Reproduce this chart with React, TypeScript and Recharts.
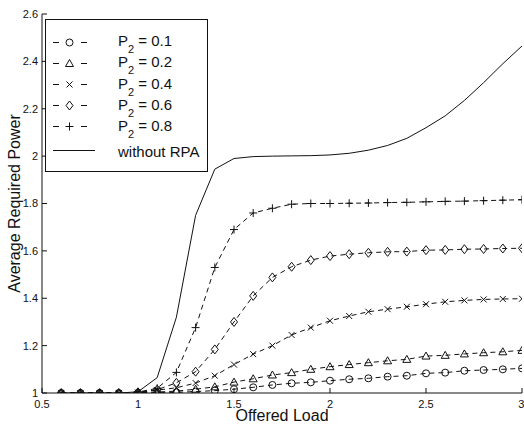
import React from 'react';
import { LineChart, Line, XAxis, YAxis, Legend } from 'recharts';

const loads = [0.6, 0.7, 0.8, 0.9, 1.0, 1.1, 1.2, 1.3, 1.4, 1.5, 1.6, 1.7, 1.8, 1.9, 2.0, 2.1, 2.2, 2.3, 2.4, 2.5, 2.6, 2.7, 2.8, 2.9, 3.0];

const p01 = [1, 1, 1, 1, 1, 1.001, 1.003, 1.006, 1.01, 1.016, 1.024, 1.034, 1.041, 1.045, 1.052, 1.058, 1.062, 1.069, 1.073, 1.083, 1.086, 1.094, 1.097, 1.1, 1.104];
const p02 = [1, 1, 1, 1, 1.001, 1.004, 1.008, 1.016, 1.026, 1.046, 1.06, 1.076, 1.086, 1.1, 1.111, 1.12, 1.128, 1.136, 1.142, 1.156, 1.159, 1.165, 1.17, 1.174, 1.18];
const p04 = [1, 1, 1, 1, 1.002, 1.012, 1.022, 1.042, 1.073, 1.12, 1.164, 1.2, 1.245, 1.276, 1.305, 1.325, 1.343, 1.354, 1.364, 1.375, 1.385, 1.391, 1.395, 1.397, 1.398];
const p06 = [1, 1, 1, 1, 1.003, 1.014, 1.043, 1.09, 1.184, 1.3, 1.41, 1.488, 1.533, 1.561, 1.578, 1.586, 1.592, 1.596, 1.597, 1.603, 1.604, 1.607, 1.608, 1.61, 1.611];
const p08 = [1, 1, 1, 1, 1.004, 1.02, 1.087, 1.276, 1.53, 1.69, 1.76, 1.78, 1.797, 1.8, 1.8, 1.801, 1.802, 1.804, 1.805, 1.807, 1.809, 1.81, 1.812, 1.814, 1.816];
const noRpa = [1, 1, 1, 1, 1.005, 1.065, 1.32, 1.75, 1.945, 1.99, 1.998, 2.0, 2.001, 2.002, 2.005, 2.012, 2.025, 2.045, 2.075, 2.12, 2.17, 2.235, 2.31, 2.39, 2.465];

const xTicks = [0.5, 1, 1.5, 2, 2.5, 3];
const yTicks = [1, 1.2, 1.4, 1.6, 1.8, 2, 2.2, 2.4, 2.6];

const series = [
  { key: 'p01', label: '0.1', shape: 'circle', values: p01 },
  { key: 'p02', label: '0.2', shape: 'triangle', values: p02 },
  { key: 'p04', label: '0.4', shape: 'cross', values: p04 },
  { key: 'p06', label: '0.6', shape: 'diamond', values: p06 },
  { key: 'p08', label: '0.8', shape: 'plus', values: p08 },
];

const data = loads.map((x, i) => {
  const row: Record<string, number> = { x, noRpa: noRpa[i] };
  series.forEach(s => { row[s.key] = s.values[i]; });
  return row;
});

const INK = '#111';
const FONT = '"Liberation Sans", Arial, Helvetica, sans-serif';

const markerPath = (shape: string, cx: number, cy: number) => {
  switch (shape) {
    case 'triangle': return `M${cx},${cy - 4}L${cx + 4},${cy + 3}L${cx - 4},${cy + 3}Z`;
    case 'cross': return `M${cx - 3},${cy - 3}L${cx + 3},${cy + 3}M${cx - 3},${cy + 3}L${cx + 3},${cy - 3}`;
    case 'diamond': return `M${cx},${cy - 4.5}L${cx + 3.5},${cy}L${cx},${cy + 4.5}L${cx - 3.5},${cy}Z`;
    case 'plus': return `M${cx - 4},${cy}L${cx + 4},${cy}M${cx},${cy - 4}L${cx},${cy + 4}`;
    default: return '';
  }
};

const Marker = ({ shape, cx, cy }: { shape: string; cx: number; cy: number }) => {
  if (shape === 'circle') {
    return <circle cx={cx} cy={cy} r={3.5} fill="none" stroke={INK} strokeWidth={1} />;
  }
  return <path d={markerPath(shape, cx, cy)} fill="none" stroke={INK} strokeWidth={1} />;
};

const renderLegend = () => {
  const rowTops = [22.7, 43.7, 65, 86, 107];
  return (
    <div style={{
      position: 'relative', width: 163, height: 153, boxSizing: 'border-box',
      border: `1px solid ${INK}`, background: '#fff', fontFamily: FONT, fontSize: 15, color: INK,
    }}>
      {series.map((s, i) => (
        <div key={s.key} style={{ position: 'absolute', left: 7, top: rowTops[i] - 11, height: 21, display: 'flex', alignItems: 'center' }}>
          <svg width={36} height={21} style={{ display: 'block' }}>
            <line x1={0} y1={10.5} x2={34} y2={10.5} stroke={INK} strokeDasharray="6 22" />
            <Marker shape={s.shape} cx={16.5} cy={10.5} />
          </svg>
          <span style={{ position: 'relative', top: 3, marginLeft: 29, whiteSpace: 'nowrap', lineHeight: '21px' }}>
            P<span style={{ fontSize: 11, verticalAlign: '-7px' }}>2</span> = {s.label}
          </span>
        </div>
      ))}
      <div style={{ position: 'absolute', left: 7, top: 131 - 11, height: 21, display: 'flex', alignItems: 'center' }}>
        <svg width={42} height={21} style={{ display: 'block' }}>
          <line x1={0} y1={10.5} x2={42} y2={10.5} stroke={INK} />
        </svg>
        <span style={{ position: 'relative', top: 1, marginLeft: 23, whiteSpace: 'nowrap', lineHeight: '21px' }}>without RPA</span>
      </div>
    </div>
  );
};

const tickStyle = { fill: INK, fontSize: 11, fontFamily: FONT };

export default function App() {
  return (
    <div style={{ position: 'absolute', left: 0, top: 0, background: '#fff' }}>
      <LineChart width={524} height={426} data={data} margin={{ top: 14, right: 2, bottom: 0, left: 0 }}>
        <XAxis
          dataKey="x" type="number" domain={[0.5, 3]} ticks={xTicks} allowDataOverflow
          height={33} stroke={INK} tickSize={-5} tickMargin={12} tick={tickStyle}
          tickFormatter={(v: number) => String(v)}
          label={{
            content: ({ viewBox }: any) => (
              <text x={viewBox.x + viewBox.width / 2} y={421} textAnchor="middle" fill={INK} fontSize={16} fontFamily={FONT}>
                Offered Load
              </text>
            ),
          }}
        />
        <XAxis xAxisId="top" orientation="top" type="number" domain={[0.5, 3]} ticks={xTicks} allowDataOverflow
          height={0} stroke={INK} tickSize={-5} tick={false} />
        <YAxis
          type="number" domain={[1, 2.6]} ticks={yTicks} allowDataOverflow
          width={42} stroke={INK} tickSize={-5} tickMargin={9} tick={tickStyle}
          tickFormatter={(v: number) => String(v)}
          label={{
            content: ({ viewBox }: any) => {
              const cx = 14;
              const cy = viewBox.y + viewBox.height / 2;
              return (
                <text x={cx} y={cy} transform={`rotate(-90, ${cx}, ${cy})`} textAnchor="middle" dominantBaseline="central"
                  fill={INK} fontSize={16} fontFamily={FONT}>
                  Average Required Power
                </text>
              );
            },
          }}
        />
        <YAxis yAxisId="right" orientation="right" type="number" domain={[1, 2.6]} ticks={yTicks} allowDataOverflow
          width={0} stroke={INK} tickSize={-5} tick={false} />
        <Legend content={renderLegend} layout="horizontal" verticalAlign="middle" align="center"
          wrapperStyle={{ left: 45, top: 19, width: 163, height: 153 }} />
        {series.map(s => (
          <Line
            key={s.key} dataKey={s.key} type="linear" stroke={INK} strokeWidth={1} strokeDasharray="5 4"
            isAnimationActive={false}
            dot={(p: any) => <Marker key={`${s.key}-${p.index}`} shape={s.shape} cx={p.cx} cy={p.cy} />}
          />
        ))}
        <Line dataKey="noRpa" type="linear" stroke={INK} strokeWidth={1} dot={false} isAnimationActive={false} />
      </LineChart>
    </div>
  );
}
